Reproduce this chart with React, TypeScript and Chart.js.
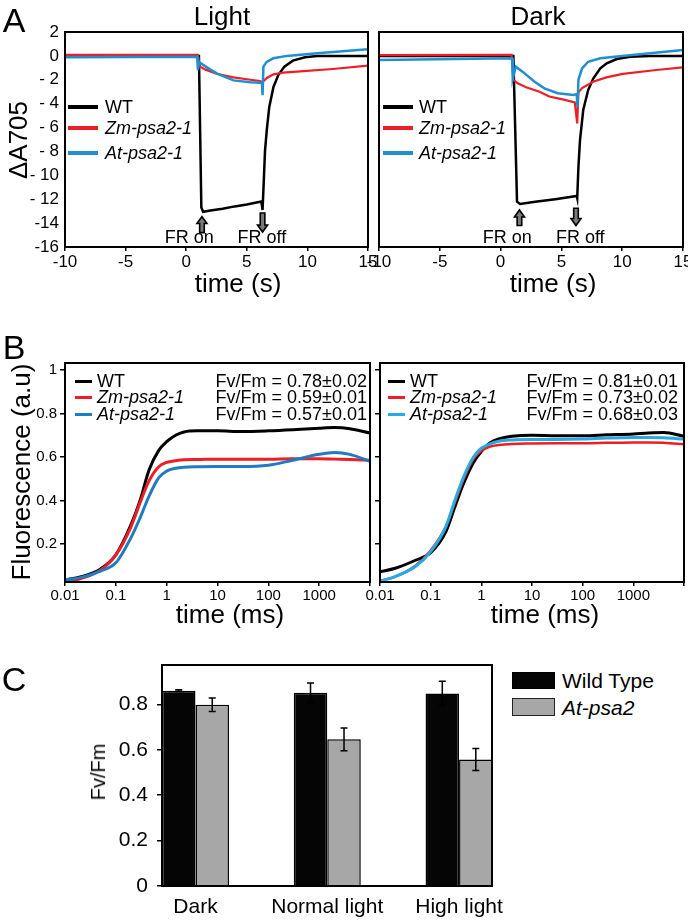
import React, { useEffect, useRef } from "react";
import { Chart, registerables } from "chart.js";

Chart.register(...registerables);

const FONT = '"Liberation Sans", Arial, Helvetica, sans-serif';
Chart.defaults.font.family = FONT;
Chart.defaults.color = "#000";

// ---------------- Panel A (P700 absorbance, ΔA705 vs time in s) ----------------
const aTimeTicks = [-10, -5, 0, 5, 10, 15];
const aValueTicks = [-16, -14, -12, -10, -8, -6, -4, -2, 0, 2];
const strains = ["WT", "Zm-psa2-1", "At-psa2-1"];

const lightWT_t = [-10, 1.05, 1.25, 1.4, 2, 3, 4, 5, 6.2, 6.3, 6.4, 6.5, 6.65, 6.85, 7.2, 7.6, 8.1, 8.8, 9.8, 10.8, 15];
const lightWT_v = [0, 0, -12.7, -13.05, -12.95, -12.8, -12.6, -12.45, -12.2, -12.9, -10.5, -8, -6.2, -4.3, -2.6, -1.6, -0.9, -0.4, -0.12, 0, 0];
const lightZm_t = [-10, 0.95, 1.05, 1.15, 1.6, 2.5, 3.9, 5.3, 6.1, 6.3, 6.65, 7.2, 8.0, 9.4, 12.1, 15];
const lightZm_v = [0.08, 0.08, -0.5, -0.9, -1.15, -1.5, -1.8, -2.0, -2.1, -2.2, -1.85, -1.55, -1.4, -1.3, -1.1, -0.82];
const lightAt_t = [-10, 0.9, 0.97, 1.05, 1.4, 2.0, 2.6, 3.3, 3.9, 5.3, 6.1, 6.25, 6.3, 6.37, 6.64, 7.19, 8.3, 10.8, 15];
const lightAt_v = [-0.12, -0.07, -1.2, -0.5, -0.75, -1.15, -1.5, -1.8, -2.05, -2.2, -2.25, -2.3, -3.3, -0.9, -0.5, -0.2, 0.0, 0.22, 0.55];

const darkWT_t = [-10, 1.05, 1.35, 1.6, 3, 4.5, 6.26, 6.3, 6.4, 6.53, 6.8, 7.2, 7.63, 8.2, 8.73, 9.55, 10.65, 12.3, 15];
const darkWT_v = [0, 0, -12.2, -12.4, -12.2, -12.0, -11.73, -11.9, -9.3, -7.05, -4.5, -2.86, -1.88, -1.04, -0.62, -0.26, -0.07, 0, 0];
const darkZm_t = [-10, 0.9, 1.05, 1.4, 2.1, 3.2, 4.0, 5.1, 6.1, 6.3, 6.4, 6.7, 7.6, 8.7, 10.05, 12.8, 15];
const darkZm_v = [0.07, 0.09, -2.0, -2.3, -2.63, -3.0, -3.4, -3.64, -3.9, -5.65, -3.05, -2.7, -2.16, -1.8, -1.5, -1.18, -0.96];
const darkAt_t = [-10, 0.95, 1.0, 1.25, 1.8, 2.8, 3.6, 4.7, 6.0, 6.26, 6.32, 6.4, 6.7, 7.2, 8.2, 10, 15];
const darkAt_v = [-0.35, -0.2, -1.88, -0.9, -1.32, -2.16, -2.72, -3.13, -3.27, -3.2, -4.3, -2.0, -1.04, -0.49, -0.2, 0, 0.49];

// FR on / FR off annotations (data coordinates)
const frLabels = ["FR on", "FR off"];
const lightArrowT = [1.3, 6.3];
const lightArrowTail = [-14.8, -13.15];
const lightArrowHead = [-13.45, -14.75];
const lightLabelT = [0.25, 6.25];
const darkArrowT = [1.55, 6.2];
const darkArrowTail = [-14.2, -12.75];
const darkArrowHead = [-12.9, -14.2];
const darkLabelT = [0.55, 6.55];
const frLabelV = -15.25;

// ---------------- Panel B (fluorescence induction, log time in ms) ----------------
const bTimeTicks = [0.01, 0.1, 1, 10, 100, 1000, 10000];
const bValueTicks = [0.2, 0.4, 0.6, 0.8, 1];
const bTime = [0.01, 0.02, 0.05, 0.1, 0.2, 0.3, 0.45, 0.7, 1, 1.5, 2.2, 4, 10, 30, 100, 300, 1000, 2000, 4000, 10000];
const lightWT_F = [0.035, 0.048, 0.085, 0.15, 0.29, 0.4, 0.54, 0.63, 0.67, 0.7, 0.715, 0.72, 0.72, 0.717, 0.72, 0.725, 0.732, 0.735, 0.73, 0.71];
const lightZm_F = [0.025, 0.04, 0.08, 0.15, 0.28, 0.39, 0.49, 0.555, 0.575, 0.583, 0.587, 0.588, 0.59, 0.59, 0.59, 0.592, 0.592, 0.59, 0.588, 0.585];
const lightAt_F = [0.035, 0.045, 0.075, 0.113, 0.23, 0.32, 0.42, 0.505, 0.535, 0.548, 0.553, 0.555, 0.556, 0.556, 0.562, 0.585, 0.612, 0.62, 0.612, 0.58];
const darkWT_F = [0.072, 0.088, 0.125, 0.16, 0.257, 0.37, 0.48, 0.575, 0.625, 0.666, 0.683, 0.695, 0.7, 0.698, 0.698, 0.702, 0.706, 0.71, 0.712, 0.695];
const darkZm_F = [0.03, 0.05, 0.1, 0.17, 0.28, 0.39, 0.5, 0.59, 0.628, 0.648, 0.655, 0.66, 0.662, 0.663, 0.663, 0.665, 0.667, 0.667, 0.665, 0.658];
const darkAt_F = [0.03, 0.05, 0.096, 0.165, 0.28, 0.4, 0.51, 0.6, 0.64, 0.66, 0.672, 0.678, 0.68, 0.68, 0.682, 0.687, 0.69, 0.69, 0.688, 0.682];
const lightFvFm = [0.78, 0.59, 0.57];
const lightFvFmSd = [0.02, 0.01, 0.01];
const darkFvFm = [0.81, 0.73, 0.68];
const darkFvFmSd = [0.01, 0.02, 0.03];

// ---------------- Panel C (Fv/Fm bars) ----------------
const conditions = ["Dark", "Normal light", "High light"];
const conditionPos = [0, 1, 2];
const cValueTicks = [0, 0.2, 0.4, 0.6, 0.8];
const wtFvFm = [0.86, 0.851, 0.848];
const wtErr = [0.004, 0.043, 0.053];
const mutFvFm = [0.798, 0.646, 0.557];
const mutErr = [0.03, 0.05, 0.048];
const barSeries = ["Wild Type", "At-psa2"];

// ---------------- colours ----------------
const BLACK = "#000000";
const RED = "#ec1f26";
const BLUE_A = "#1f8fd2";
const BLUE_BL = "#1f7cc4";
const BLUE_BD = "#27a9e1";
const GRAY = "#a7a7a7";

type Rect = { left: number; top: number; w: number; h: number };
type Area = { l: number; t: number; r: number; b: number };

function layoutFor(c: Rect, a: Area) {
  return {
    padding: { left: 0, top: a.t - c.top, right: c.left + c.w - a.r, bottom: 0 },
    yW: a.l - c.left,
    xH: c.top + c.h - a.b,
  };
}

const zip = (t: number[], v: number[]) => t.map((x, i) => ({ x, y: v[i] }));

function lineDs(label: string, t: number[], v: number[], color: string, width: number, order: number, extra: any = {}) {
  return {
    label,
    data: zip(t, v),
    borderColor: color,
    backgroundColor: color,
    borderWidth: width,
    pointRadius: 0,
    tension: 0,
    fill: false,
    order,
    ...extra,
  };
}

const boxPlugin = {
  id: "frameBox",
  afterDraw(chart: any) {
    const { ctx, chartArea: a } = chart;
    ctx.save();
    ctx.strokeStyle = "#000";
    ctx.lineWidth = 2;
    ctx.strokeRect(a.left, a.top, a.right - a.left, a.bottom - a.top);
    ctx.restore();
  },
};

function drawBlockArrow(ctx: CanvasRenderingContext2D, x: number, yTail: number, yHead: number) {
  const dir = Math.sign(yHead - yTail);
  const headLen = 7;
  const headW = 5;
  const shaftW = 2.3;
  const yh = yHead - dir * headLen;
  ctx.beginPath();
  ctx.moveTo(x - shaftW, yTail);
  ctx.lineTo(x - shaftW, yh);
  ctx.lineTo(x - headW, yh);
  ctx.lineTo(x, yHead);
  ctx.lineTo(x + headW, yh);
  ctx.lineTo(x + shaftW, yh);
  ctx.lineTo(x + shaftW, yTail);
  ctx.closePath();
  ctx.fillStyle = "#7a7a7a";
  ctx.fill();
  ctx.lineWidth = 1.6;
  ctx.strokeStyle = "#000";
  ctx.stroke();
}

function frPlugin(arrowT: number[], tail: number[], head: number[], labelT: number[]) {
  return {
    id: "frAnnot",
    afterDatasetsDraw(chart: any) {
      const { ctx } = chart;
      const x = chart.scales.x;
      const y = chart.scales.y;
      ctx.save();
      ctx.font = `18px ${FONT}`;
      ctx.fillStyle = "#000";
      ctx.textAlign = "center";
      ctx.textBaseline = "middle";
      frLabels.forEach((s, i) => ctx.fillText(s, x.getPixelForValue(labelT[i]), y.getPixelForValue(frLabelV)));
      arrowT.forEach((t, i) =>
        drawBlockArrow(ctx, x.getPixelForValue(t), y.getPixelForValue(tail[i]), y.getPixelForValue(head[i]))
      );
      ctx.restore();
    },
  };
}

const errorBarPlugin = {
  id: "errBars",
  afterDatasetsDraw(chart: any) {
    const { ctx } = chart;
    const yS = chart.scales.y;
    const vals = [wtFvFm, mutFvFm];
    const errs = [wtErr, mutErr];
    ctx.save();
    ctx.strokeStyle = "#000";
    ctx.lineWidth = 1.5;
    chart.data.datasets.forEach((_d: any, di: number) => {
      const meta = chart.getDatasetMeta(di);
      meta.data.forEach((bar: any, i: number) => {
        const v = vals[di][i];
        const e = errs[di][i];
        const x = bar.x;
        const y1 = yS.getPixelForValue(v + e);
        const y2 = yS.getPixelForValue(v - e);
        ctx.beginPath();
        ctx.moveTo(x, y1);
        ctx.lineTo(x, y2);
        ctx.moveTo(x - 3.5, y1);
        ctx.lineTo(x + 3.5, y1);
        ctx.moveTo(x - 3.5, y2);
        ctx.lineTo(x + 3.5, y2);
        ctx.stroke();
      });
    });
    ctx.restore();
  },
};

const fmtA = (v: number) => (v >= 0 ? String(v) : v > -14 ? "- " + -v : String(v));

function aConfig(rect: Rect, area: Area, showY: boolean, datasets: any[], fr: any) {
  const lay = layoutFor(rect, area);
  return {
    type: "line",
    data: { datasets },
    options: {
      animation: false,
      responsive: false,
      events: [],
      layout: { padding: lay.padding, autoPadding: false },
      plugins: { legend: { display: false }, tooltip: { enabled: false }, title: { display: false } },
      scales: {
        x: {
          type: "linear",
          min: -10,
          max: 15,
          afterBuildTicks: (s: any) => {
            s.ticks = aTimeTicks.map((v) => ({ value: v }));
          },
          afterFit: (s: any) => {
            s.height = lay.xH;
            s.paddingLeft = 0;
            s.paddingRight = 0;
          },
          ticks: { font: { size: 17 }, color: "#000", padding: 1, maxRotation: 0, autoSkip: false },
          grid: { drawOnChartArea: false, drawTicks: true, tickLength: 4, color: "#000", lineWidth: 1.5 },
          border: { display: false },
        },
        y: {
          type: "linear",
          min: -16,
          max: 2,
          afterBuildTicks: (s: any) => {
            s.ticks = aValueTicks.map((v) => ({ value: v }));
          },
          afterFit: (s: any) => {
            s.width = lay.yW;
            s.paddingTop = 0;
            s.paddingBottom = 0;
          },
          ticks: {
            display: showY,
            font: { size: 17 },
            color: "#000",
            padding: 6,
            callback: (v: number) => fmtA(v),
          },
          grid: { display: false, drawTicks: false },
          border: { display: false },
        },
      },
    },
    plugins: [boxPlugin, fr],
  };
}

function bConfig(rect: Rect, area: Area, showY: boolean, datasets: any[]) {
  const lay = layoutFor(rect, area);
  return {
    type: "line",
    data: { datasets },
    options: {
      animation: false,
      responsive: false,
      events: [],
      layout: { padding: lay.padding, autoPadding: false },
      plugins: { legend: { display: false }, tooltip: { enabled: false }, title: { display: false } },
      scales: {
        x: {
          type: "logarithmic",
          min: 0.01,
          max: 10000,
          afterBuildTicks: (s: any) => {
            s.ticks = bTimeTicks.map((v) => ({ value: v }));
          },
          afterFit: (s: any) => {
            s.height = lay.xH;
            s.paddingLeft = 0;
            s.paddingRight = 0;
          },
          ticks: {
            font: { size: 15 },
            color: "#000",
            padding: 1,
            maxRotation: 0,
            autoSkip: false,
            callback: (v: number) => (v >= 10000 ? "" : String(v)),
          },
          grid: { drawOnChartArea: false, drawTicks: true, tickLength: 4, color: "#000", lineWidth: 1.5 },
          border: { display: false },
        },
        y: {
          type: "linear",
          min: 0.025,
          max: 1.032,
          afterBuildTicks: (s: any) => {
            s.ticks = bValueTicks.map((v) => ({ value: v }));
          },
          afterFit: (s: any) => {
            s.width = lay.yW;
            s.paddingTop = 0;
            s.paddingBottom = 0;
          },
          ticks: {
            font: { size: 15 },
            color: "#000",
            padding: 3,
            callback: (v: number) => (showY ? String(Math.round(v * 10) / 10) : ""),
          },
          grid: { drawOnChartArea: false, drawTicks: true, tickLength: 5, color: "#000", lineWidth: 1.5 },
          border: { display: false },
        },
      },
    },
    plugins: [boxPlugin],
  };
}

function cConfig(rect: Rect, area: Area) {
  const lay = layoutFor(rect, area);
  return {
    type: "bar",
    data: {
      datasets: [
        {
          label: barSeries[0],
          data: zip(conditionPos, wtFvFm),
          backgroundColor: "#050505",
          borderColor: "#000",
          borderWidth: 1.5,
          categoryPercentage: 0.5085,
          barPercentage: 1,
        },
        {
          label: barSeries[1],
          data: zip(conditionPos, mutFvFm),
          backgroundColor: GRAY,
          borderColor: "#000",
          borderWidth: 1.5,
          categoryPercentage: 0.5085,
          barPercentage: 1,
        },
      ],
    },
    options: {
      animation: false,
      responsive: false,
      events: [],
      layout: { padding: lay.padding, autoPadding: false },
      plugins: { legend: { display: false }, tooltip: { enabled: false }, title: { display: false } },
      scales: {
        x: {
          type: "linear",
          offset: false,
          min: -0.254,
          max: 2.25,
          afterBuildTicks: (s: any) => {
            s.ticks = conditionPos.map((v) => ({ value: v }));
          },
          afterFit: (s: any) => {
            s.height = lay.xH;
            s.paddingLeft = 0;
            s.paddingRight = 0;
          },
          ticks: {
            font: { size: 21 },
            color: "#000",
            padding: 9,
            maxRotation: 0,
            autoSkip: false,
            callback: (v: number) => conditions[Math.round(v)] ?? "",
          },
          grid: { display: false, drawTicks: false },
          border: { display: false },
        },
        y: {
          type: "linear",
          min: 0,
          max: 0.973,
          afterBuildTicks: (s: any) => {
            s.ticks = cValueTicks.map((v) => ({ value: v }));
          },
          afterFit: (s: any) => {
            s.width = lay.yW;
            s.paddingTop = 0;
            s.paddingBottom = 0;
          },
          ticks: {
            font: { size: 21 },
            color: "#000",
            padding: 9,
            callback: (v: number) => (v === 0 ? "0" : v.toFixed(1)),
          },
          grid: { drawOnChartArea: false, drawTicks: true, tickLength: 5, color: "#000", lineWidth: 1.5 },
          border: { display: false },
        },
      },
    },
    plugins: [boxPlugin, errorBarPlugin],
  };
}

function ChartCanvas({ rect, make }: { rect: Rect; make: () => any }) {
  const ref = useRef<HTMLCanvasElement>(null);
  useEffect(() => {
    const ch = new Chart(ref.current as HTMLCanvasElement, make());
    return () => ch.destroy();
  }, []);
  return (
    <canvas
      ref={ref}
      width={rect.w}
      height={rect.h}
      style={{ position: "absolute", left: rect.left, top: rect.top, width: rect.w, height: rect.h }}
    />
  );
}

function T(props: {
  x: number;
  y: number;
  s: number;
  children: React.ReactNode;
  italic?: boolean;
  rot?: boolean;
  align?: "center" | "left" | "right";
}) {
  const { x, y, s, children, italic, rot, align = "center" } = props;
  const tx = align === "center" ? "-50%" : align === "left" ? "0" : "-100%";
  return (
    <div
      style={{
        position: "absolute",
        left: x,
        top: y,
        fontSize: s,
        fontFamily: FONT,
        fontStyle: italic ? "italic" : "normal",
        lineHeight: 1,
        whiteSpace: "nowrap",
        color: "#000",
        transform: `translate(${tx},-50%)${rot ? " rotate(-90deg)" : ""}`,
      }}
    >
      {children}
    </div>
  );
}

function LegLine({ x1, x2, y, color, w }: { x1: number; x2: number; y: number; color: string; w: number }) {
  return (
    <div style={{ position: "absolute", left: x1, top: y - w / 2, width: x2 - x1, height: w, background: color }} />
  );
}

const rectAL: Rect = { left: 0, top: 0, w: 380, h: 275 };
const areaAL: Area = { l: 65, t: 32, r: 368, b: 247 };
const rectAR: Rect = { left: 340, top: 0, w: 348, h: 275 };
const areaAR: Area = { l: 379, t: 32, r: 683, b: 247 };
const rectBL: Rect = { left: 0, top: 340, w: 380, h: 290 };
const areaBL: Area = { l: 65, t: 363, r: 370, b: 582 };
const rectBR: Rect = { left: 340, top: 340, w: 348, h: 290 };
const areaBR: Area = { l: 380, t: 363, r: 684, b: 582 };
const rectC: Rect = { left: 40, top: 640, w: 470, h: 281 };
const areaC: Area = { l: 162, t: 665, r: 492, b: 886 };

export default function App() {
  const colorsA = [BLACK, RED, BLUE_A];
  const colorsBL = [BLACK, RED, BLUE_BL];
  const colorsBR = [BLACK, RED, BLUE_BD];
  const aLegY = [107, 128, 153];
  const bLegY = [381, 397, 414];
  return (
    <div style={{ position: "absolute", left: 0, top: 0, width: 688, height: 921, background: "#fff", overflow: "hidden" }}>
      <ChartCanvas
        rect={rectAL}
        make={() =>
          aConfig(
            rectAL,
            areaAL,
            true,
            [
              lineDs(strains[0], lightWT_t, lightWT_v, BLACK, 2.5, 3),
              lineDs(strains[1], lightZm_t, lightZm_v, RED, 2.2, 2),
              lineDs(strains[2], lightAt_t, lightAt_v, BLUE_A, 2.5, 1),
            ],
            frPlugin(lightArrowT, lightArrowTail, lightArrowHead, lightLabelT)
          )
        }
      />
      <ChartCanvas
        rect={rectAR}
        make={() =>
          aConfig(
            rectAR,
            areaAR,
            false,
            [
              lineDs(strains[0], darkWT_t, darkWT_v, BLACK, 2.5, 3),
              lineDs(strains[1], darkZm_t, darkZm_v, RED, 2.2, 2),
              lineDs(strains[2], darkAt_t, darkAt_v, BLUE_A, 2.5, 1),
            ],
            frPlugin(darkArrowT, darkArrowTail, darkArrowHead, darkLabelT)
          )
        }
      />
      <ChartCanvas
        rect={rectBL}
        make={() =>
          bConfig(rectBL, areaBL, true, [
            lineDs(strains[0], bTime, lightWT_F, BLACK, 3, 3, { cubicInterpolationMode: "monotone" }),
            lineDs(strains[1], bTime, lightZm_F, RED, 3, 2, { cubicInterpolationMode: "monotone" }),
            lineDs(strains[2], bTime, lightAt_F, BLUE_BL, 3, 1, { cubicInterpolationMode: "monotone" }),
          ])
        }
      />
      <ChartCanvas
        rect={rectBR}
        make={() =>
          bConfig(rectBR, areaBR, false, [
            lineDs(strains[0], bTime, darkWT_F, BLACK, 3, 3, { cubicInterpolationMode: "monotone" }),
            lineDs(strains[1], bTime, darkZm_F, RED, 2.5, 2, { cubicInterpolationMode: "monotone" }),
            lineDs(strains[2], bTime, darkAt_F, BLUE_BD, 3, 1, { cubicInterpolationMode: "monotone" }),
          ])
        }
      />
      <ChartCanvas rect={rectC} make={() => cConfig(rectC, areaC)} />

      {/* Panel A texts */}
      <T x={14} y={20} s={34}>A</T>
      <T x={222} y={16} s={26}>Light</T>
      <T x={538} y={16} s={26}>Dark</T>
      <T x={18} y={140} s={26} rot>ΔA705</T>
      <T x={238} y={283} s={26}>time (s)</T>
      <T x={553} y={283} s={26}>time (s)</T>
      {strains.map((s, i) => (
        <React.Fragment key={"al" + i}>
          <LegLine x1={68} x2={98} y={aLegY[i]} color={colorsA[i]} w={3.5} />
          <T x={105} y={aLegY[i]} s={18} italic={i > 0} align="left">{s}</T>
          <LegLine x1={383} x2={413} y={aLegY[i]} color={colorsA[i]} w={3.5} />
          <T x={419} y={aLegY[i]} s={18} italic={i > 0} align="left">{s}</T>
        </React.Fragment>
      ))}

      {/* Panel B texts */}
      <T x={14} y={347} s={34}>B</T>
      <T x={21} y={472} s={26} rot>Fluorescence (a.u)</T>
      <T x={230} y={614} s={26}>time (ms)</T>
      <T x={545} y={614} s={26}>time (ms)</T>
      {strains.map((s, i) => (
        <React.Fragment key={"bl" + i}>
          <LegLine x1={75} x2={92} y={bLegY[i]} color={colorsBL[i]} w={3} />
          <T x={97} y={bLegY[i]} s={18} italic={i > 0} align="left">{s}</T>
          <T x={367} y={bLegY[i]} s={18} align="right">
            {`Fv/Fm = ${lightFvFm[i].toFixed(2)}±${lightFvFmSd[i].toFixed(2)}`}
          </T>
          <LegLine x1={388} x2={405} y={bLegY[i]} color={colorsBR[i]} w={3} />
          <T x={410} y={bLegY[i]} s={18} italic={i > 0} align="left">{s}</T>
          <T x={678} y={bLegY[i]} s={18} align="right">
            {`Fv/Fm = ${darkFvFm[i].toFixed(2)}±${darkFvFmSd[i].toFixed(2)}`}
          </T>
        </React.Fragment>
      ))}

      {/* Panel C texts */}
      <T x={14} y={679} s={34}>C</T>
      <T x={98} y={772} s={20} rot>Fv/Fm</T>
      <div style={{ position: "absolute", left: 512, top: 672, width: 43, height: 17, background: "#050505", border: "1.5px solid #000", boxSizing: "border-box" }} />
      <div style={{ position: "absolute", left: 512, top: 698, width: 43, height: 18, background: GRAY, border: "1.5px solid #222", boxSizing: "border-box" }} />
      <T x={562} y={680} s={21} align="left">{barSeries[0]}</T>
      <T x={562} y={707} s={21} italic align="left">{barSeries[1]}</T>
    </div>
  );
}
